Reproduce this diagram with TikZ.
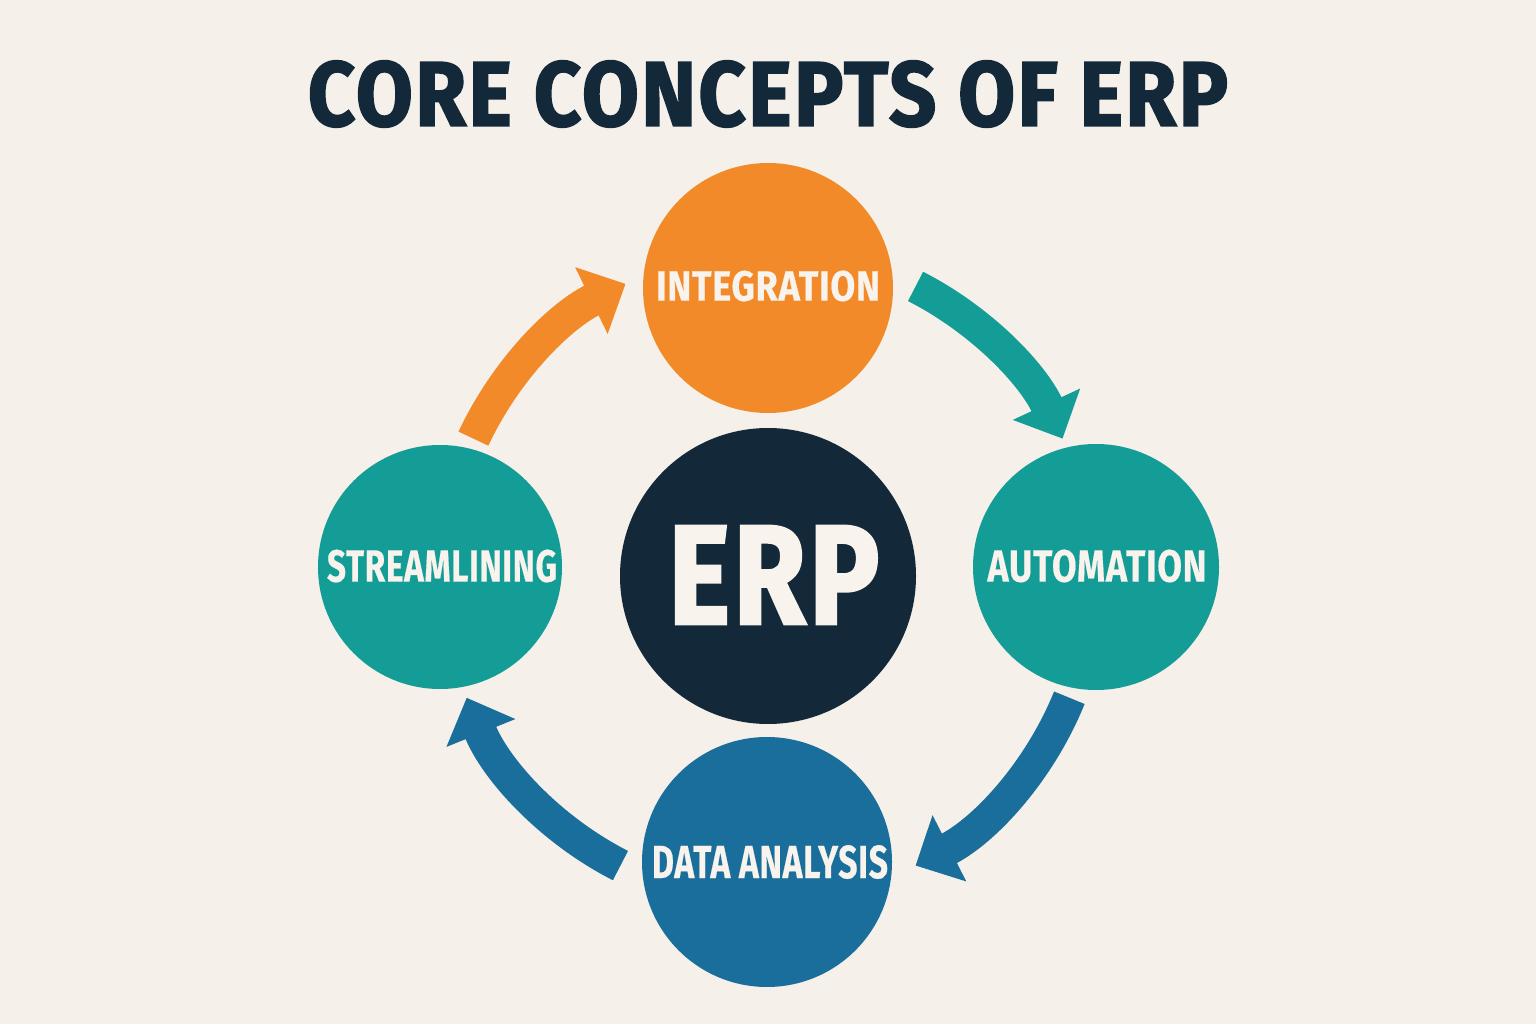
\documentclass[tikz,border=0pt]{standalone}
\usepackage{fontspec}
\usepackage{graphicx}
\usetikzlibrary{arrows.meta}
\newfontfamily\cf{Fira Sans}[LetterSpace=2,BoldFeatures={FakeBold=0.5}]
\newfontfamily\cfh{Fira Sans}[LetterSpace=3,BoldFeatures={FakeBold=2}]
\definecolor{bgC}{HTML}{F5F0E9}
\definecolor{orangeC}{HTML}{F28A2A}
\definecolor{tealC}{HTML}{139D96}
\definecolor{navyC}{HTML}{13293A}
\definecolor{blueC}{HTML}{1A6E9B}
\definecolor{lightC}{HTML}{F8F3EC}
\newcommand{\fitlabel}[3]{\resizebox{#1}{#2}{\cf\bfseries #3}}
\newcommand{\fittitle}[3]{\resizebox{#1}{#2}{\cfh\bfseries #3}}
\begin{document}
\begin{tikzpicture}[x=0.5pt,y=0.5pt,
  bubble/.style={circle,inner sep=0pt,draw=none},
  lbl/.style={inner sep=0pt,text=lightC},
  arr/.style={line width=16.5pt,-{Triangle[width=36pt,length=19pt]}}]
\fill[bgC] (0,0) rectangle (1536,1024);
\useasboundingbox (0,0) rectangle (1536,1024);
% title
\node[inner sep=0pt,text=navyC] (title) at (768,930) {\fittitle{460pt}{32.5pt}{CORE CONCEPTS OF ERP}};
% circles
\node[bubble,fill=orangeC,minimum size=125pt] (integ) at (768,736) {};
\node[bubble,fill=navyC,minimum size=148pt] (erp) at (768,448) {};
\node[bubble,fill=tealC,minimum size=123pt] (auto) at (1096,457) {};
\node[bubble,fill=tealC,minimum size=122pt] (stream) at (440,457) {};
\node[bubble,fill=blueC,minimum size=125pt] (data) at (767,162) {};
% labels
\node[lbl] (integL) at (768,738) {\fitlabel{112pt}{15pt}{INTEGRATION}};
\node[lbl] (erpL) at (774,449) {\resizebox{105.5pt}{49pt}{\cfh\bfseries ERP}};
\node[lbl] (autoL) at (1097,458) {\fitlabel{109.5pt}{16pt}{AUTOMATION}};
\node[lbl] (streamL) at (442,458) {\fitlabel{115pt}{16pt}{STREAMLINING}};
\node[lbl] (dataL) at (770,162) {\fitlabel{118pt}{16.5pt}{DATA ANALYSIS}};
% arrows (arcs around the ERP hub)
\draw[arr,orangeC] ([shift={(155:162.5pt)}]erp.center) arc[start angle=155,end angle=116,radius=162.5pt];
\draw[arr,tealC] ([shift={(63:162.5pt)}]erp.center) arc[start angle=63,end angle=25,radius=162.5pt];
\draw[arr,blueC] ([shift={(-22:162.5pt)}]erp.center) arc[start angle=-22,end angle=-63,radius=162.5pt];
\draw[arr,blueC] ([shift={(-117:162.5pt)}]erp.center) arc[start angle=-117,end angle=-158,radius=162.5pt];
\end{tikzpicture}
\end{document}
